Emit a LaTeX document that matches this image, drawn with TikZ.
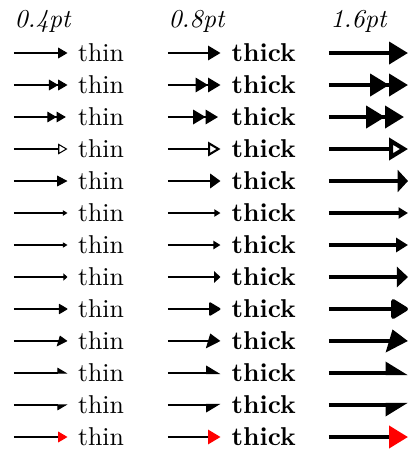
\documentclass[tikz,border=0pt]{standalone}
\usetikzlibrary{arrows.meta}
\newcommand\tiprow[2]{%
  \pgfmathsetmacro\yy{53+32*(#1-1)}%
  \coordinate (sa#1) at (14,\yy);
  \coordinate (ea#1) at (67.5,\yy);
  \coordinate (sb#1) at (168,\yy);
  \coordinate (eb#1) at (220.5,\yy);
  \coordinate (sc#1) at (329,\yy);
  \coordinate (ec#1) at (408,\yy);
  \draw[line width=0.4pt,-{#2}] (sa#1) -- (ea#1);
  \draw[line width=0.8pt,-{#2}] (sb#1) -- (eb#1);
  \draw[line width=1.6pt,-{#2}] (sc#1) -- (ec#1);
  \node[lbl] (ta#1) at (77.5,\yy) {thin};
  \node[lbl] (tb#1) at (231,\yy) {\bfseries thick};
}
\begin{document}
\begin{tikzpicture}[x=0.3876pt,y=-0.3876pt,
  lbl/.style={anchor=west,inner sep=0pt},
  hdr/.style={anchor=base west,inner sep=0pt,font=\itshape}]
\useasboundingbox (0,0) rectangle (414,451);
\node[hdr] (h1) at (14,27) {0.4pt};
\node[hdr] (h2) at (168,27) {0.8pt};
\node[hdr] (h3) at (330,27) {1.6pt};
\tiprow{1}{Triangle[]}
\tiprow{2}{Triangle[] Triangle[]}
\tiprow{3}{Triangle[] Triangle[sep=0.35pt 0.75]}
\tiprow{4}{Triangle[open]}
\tiprow{5}{Triangle[length=4pt]}
\tiprow{6}{Triangle[scale=.5]}
\tiprow{7}{Triangle[length=0.8pt 2.4, width=0.8pt 2.9]}
\tiprow{8}{Triangle[length=0.65pt 2.26, width=1pt 4.2]}
\tiprow{9}{Triangle[round]}
\tiprow{10}{Triangle[slant=.3]}
\tiprow{11}{Triangle[left]}
\tiprow{12}{Triangle[right]}
\tiprow{13}{Triangle[red]}
\end{tikzpicture}
\end{document}
